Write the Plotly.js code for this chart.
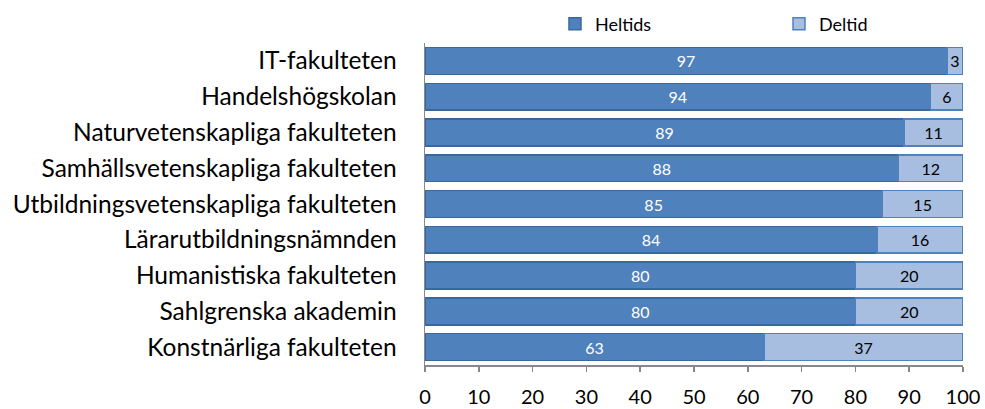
<!DOCTYPE html>
<html>
<head>
<meta charset="utf-8">
<script src="https://cdn.plot.ly/plotly-3.0.1.min.js"></script>
<style>html,body{margin:0;padding:0;background:#fff;}#chart{width:985px;height:409px;}</style>
</head>
<body>
<div id="chart"></div>
<script>
const categories = [
  "IT-fakulteten",
  "Handelshögskolan",
  "Naturvetenskapliga fakulteten",
  "Samhällsvetenskapliga fakulteten",
  "Utbildningsvetenskapliga fakulteten",
  "Lärarutbildningsnämnden",
  "Humanistiska fakulteten",
  "Sahlgrenska akademin",
  "Konstnärliga fakulteten"
];
const heltids = [97, 94, 89, 88, 85, 84, 80, 80, 63];
const deltid = [3, 6, 11, 12, 15, 16, 20, 20, 37];
const xTicks = [0, 10, 20, 30, 40, 50, 60, 70, 80, 90, 100];

const FONT = "Lato, 'Open Sans', sans-serif";

const traces = [
  {
    type: "bar", orientation: "h", name: "Heltids", legend: "legend",
    y: categories, x: heltids, text: heltids.map(String),
    textposition: "inside", insidetextanchor: "middle", textangle: 0,
    textfont: {family: FONT, size: 16, color: "#ffffff"},
    marker: {color: "#4F81BD", line: {color: "#3A679C", width: 1.5}},
    hoverinfo: "skip"
  },
  {
    type: "bar", orientation: "h", name: "Deltid", legend: "legend2",
    y: categories, x: deltid, text: deltid.map(String),
    textposition: "inside", insidetextanchor: "middle", textangle: 0,
    textfont: {family: FONT, size: 16, color: "#000000"},
    marker: {color: "#A8BEE0", line: {color: "#4F81BD", width: 1.5}},
    hoverinfo: "skip"
  }
];

const legendBase = {
  orientation: "h", yanchor: "middle", y: 1.059, xanchor: "left",
  font: {family: FONT, size: 18, color: "#000000"},
  itemwidth: 30, bgcolor: "rgba(0,0,0,0)"
};

const layout = {
  width: 985, height: 409,
  margin: {l: 425, r: 22, t: 43, b: 44, autoexpand: false},
  paper_bgcolor: "#ffffff", plot_bgcolor: "#ffffff",
  barmode: "stack", bargap: 0.25,
  font: {family: FONT, color: "#000000"},
  showlegend: true,
  legend: Object.assign({}, legendBase, {x: 0.2416}),
  legend2: Object.assign({}, legendBase, {x: 0.658}),
  xaxis: {
    range: [0, 100], tickvals: xTicks, ticktext: xTicks.map(String),
    showgrid: false, zeroline: false,
    showline: true, linecolor: "#888888", linewidth: 1.5,
    ticks: "outside", ticklen: 5, tickcolor: "#888888", tickwidth: 1.5,
    ticklabelstandoff: 8,
    tickfont: {family: FONT, size: 20, color: "#000000"},
    fixedrange: true
  },
  yaxis: {
    autorange: "reversed", type: "category",
    showgrid: false, zeroline: false,
    showline: true, linecolor: "#888888", linewidth: 1.5,
    ticks: "", ticklabelstandoff: 22,
    tickfont: {family: FONT, size: 24.5, color: "#000000"},
    fixedrange: true
  }
};

Plotly.newPlot("chart", traces, layout, {displayModeBar: false, staticPlot: true});
</script>
</body>
</html>
